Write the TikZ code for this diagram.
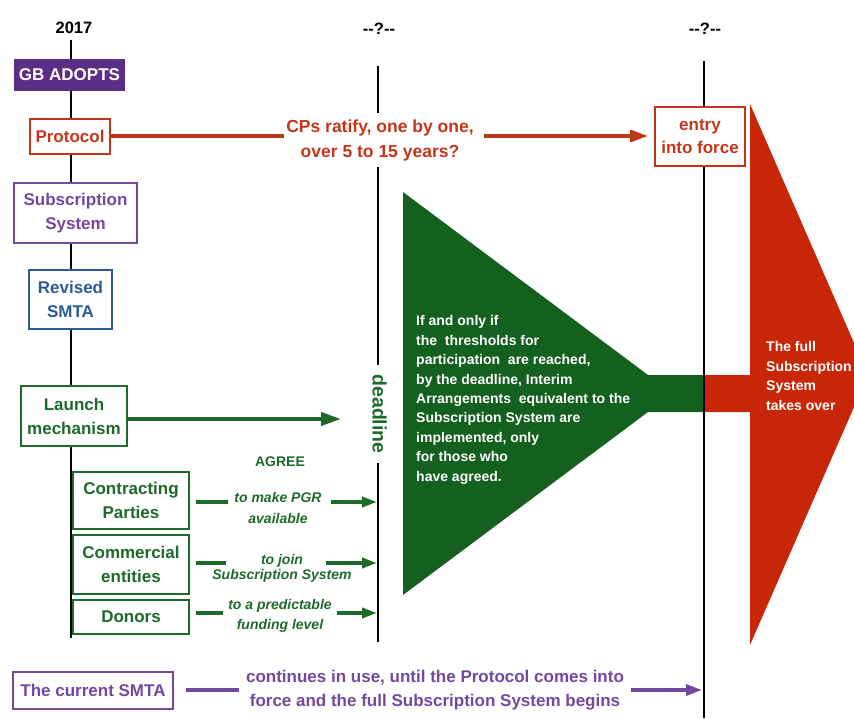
\documentclass[tikz,border=0pt]{standalone}
\usepackage{fontspec}
\setmainfont{Liberation Sans}
\usetikzlibrary{arrows.meta}
\definecolor{cPurpleF}{HTML}{5C2D84}
\definecolor{cPurple}{HTML}{7548A0}
\definecolor{cRed}{HTML}{C4361A}
\definecolor{cRedF}{HTML}{C92608}
\definecolor{cGreen}{HTML}{1E6A2B}
\definecolor{cGreenF}{HTML}{14611F}
\definecolor{cBlue}{HTML}{2D5B94}
\begin{document}
\begin{tikzpicture}[x=1pt,y=-1pt,
  f17/.style={font=\fontsize{17}{24}\selectfont\bfseries},
  f14/.style={font=\fontsize{14}{19.4}\selectfont\bfseries},
  fit14/.style={font=\fontsize{14}{#1}\selectfont\bfseries\itshape},
  bx/.style={draw, line width=2pt, fill=white, inner sep=0pt, align=center, f17},
  gbx/.style={bx, draw=cGreen, text=cGreen, line width=2.5pt},
  tline/.style={line width=2pt, black},
  redln/.style={line width=3.5pt, cRed},
  redarr/.style={redln, -{Triangle[length=18pt,width=12pt]}},
  garr/.style={line width=4pt, cGreen, -{Triangle[length=20pt,width=13pt]}},
  gln/.style={line width=3.5pt, cGreen},
  garr2/.style={gln, -{Triangle[length=15pt,width=10pt]}},
  pln/.style={line width=3.5pt, cPurple},
  parr/.style={pln, -{Triangle[length=16pt,width=11pt]}}
]
\useasboundingbox (0,0) rectangle (854,718);

% timeline lines
\coordinate (l1t) at (71,40);
\coordinate (l1b) at (71,638);
\coordinate (l2t) at (378,66);
\coordinate (l2b) at (378,642);
\coordinate (l3t) at (704,61);
\coordinate (l3b) at (704,718);
\draw[tline] (l1t) -- (l1b);
\draw[tline] (l2t) -- (l2b);

% headings
\node[font=\fontsize{16.5}{20}\selectfont\bfseries] (y2017) at (74,28) {2017};
\node[font=\fontsize{16.5}{20}\selectfont\bfseries] (q1) at (379,29) {-{}-?-{}-};
\node[font=\fontsize{16.5}{20}\selectfont\bfseries] (q2) at (705,29) {-{}-?-{}-};

% green funnel
\fill[cGreenF] (403,192) -- (648,375) -- (704,375) -- (704,412) -- (648,412) -- (403,595) -- cycle;
\node[f14, text=white, align=left, anchor=west, inner sep=0pt] (gtext) at (416,400)
 {If and only if\\the~ thresholds for\\participation~ are reached,\\by the deadline, Interim\\Arrangements~ equivalent to the\\Subscription System are\\implemented, only\\for those who\\have agreed.};

% red arrow
\begin{scope}
\clip (0,0) rectangle (854,718);
\fill[cRedF] (704,375) -- (750,375) -- (750,104) -- (868,375) -- (750,645) -- (750,412) -- (704,412) -- cycle;
\end{scope}
\node[f14, text=white, align=left, anchor=west, inner sep=0pt] (rtext) at (766,376)
 {The full\\Subscription\\System\\takes over};

\draw[line width=2.3pt, black] (l3t) -- (l3b);

% left column boxes
\node[bx, fill=cPurpleF, draw=cPurpleF, text=white, minimum width=109, minimum height=30] (gb) at (69.5,75) {GB ADOPTS};
\node[bx, draw=cRed, text=cRed, minimum width=80, minimum height=35] (prot) at (70,136) {Protocol};
\node[bx, draw=cPurple, text=cPurple, minimum width=123, minimum height=60] (subs) at (75.5,213) {Subscription\\System};
\node[bx, draw=cBlue, text=cBlue, minimum width=83, minimum height=59] (rev) at (70.5,299.5) {Revised\\SMTA};
\node[bx, draw=cGreen, text=cGreen, minimum width=106, minimum height=60] (lm) at (74,416) {Launch\\mechanism};
\node[gbx, minimum width=116, minimum height=57] (cp) at (131,500.5) {Contracting\\Parties};
\node[gbx, minimum width=116, minimum height=59] (ce) at (131,564.5) {Commercial\\entities};
\node[gbx, minimum width=116, minimum height=34] (don) at (131,617) {Donors};
\node[bx, draw=cPurple, text=cPurple, minimum width=160, minimum height=37] (cur) at (93,690) {The current SMTA};

% protocol row
\node[font=\fontsize{17.5}{25}\selectfont\bfseries, text=cRed, align=center, fill=white, inner xsep=2pt, inner ysep=6pt] (cps) at (380,140) {CPs ratify, one by one,\\over 5 to 15 years?};
\node[bx, draw=cRed, text=cRed, minimum width=90, minimum height=59, font=\fontsize{17}{23}\selectfont\bfseries] (eif) at (700,136.5) {entry\\into force};
\draw[redln] (prot.east) -- (prot.east -| cps.west);
\draw[redarr, shorten <=8pt, shorten >=6pt] (prot.east -| cps.east) -- (prot.east -| eif.west);

% deadline
\node[font=\fontsize{19.5}{22}\selectfont\bfseries, text=cGreen, rotate=-90, fill=white, inner xsep=9pt, inner ysep=2pt] (dl) at (379.5,414) {deadline};
\coordinate (dlA) at (341,419);
\draw[garr] (lm.east |- dlA) -- (dlA);

% agree rows
\node[f14, text=cGreen] (agree) at (280,462) {AGREE};
\node[fit14=21, text=cGreen, align=center] (t1) at (278,507.5) {to make PGR\\available};
\node[fit14=15, text=cGreen, align=center] (t2) at (282,568.5) {to join\\Subscription System};
\node[fit14=20, text=cGreen, align=center] (t3) at (280,616) {to a predictable\\funding level};

\coordinate (a1) at (228,502); \coordinate (b1) at (331,502); \coordinate (e1) at (377,502);
\coordinate (a2) at (226,563); \coordinate (b2) at (326,563); \coordinate (e2) at (377,563);
\coordinate (a3) at (223,613); \coordinate (b3) at (337,613); \coordinate (e3) at (377,613);
\draw[gln, shorten <=6pt] (cp.east |- a1) -- (a1);
\draw[garr2] (b1) -- (e1);
\draw[gln, shorten <=6pt] (ce.east |- a2) -- (a2);
\draw[garr2] (b2) -- (e2);
\draw[gln, shorten <=6pt] (don.east |- a3) -- (a3);
\draw[garr2] (b3) -- (e3);

% current SMTA row
\node[font=\fontsize{17}{24}\selectfont\bfseries, text=cPurple, align=center, inner xsep=7pt, inner ysep=0pt] (cont) at (435,690) {continues in use, until the Protocol comes into\\force and the full Subscription System begins};
\draw[pln, shorten <=12pt] (cur.east) -- (cur.east -| cont.west);
\draw[parr, shorten >=2pt] (cont.east) -- (cont.east -| l3b);
\end{tikzpicture}
\end{document}
